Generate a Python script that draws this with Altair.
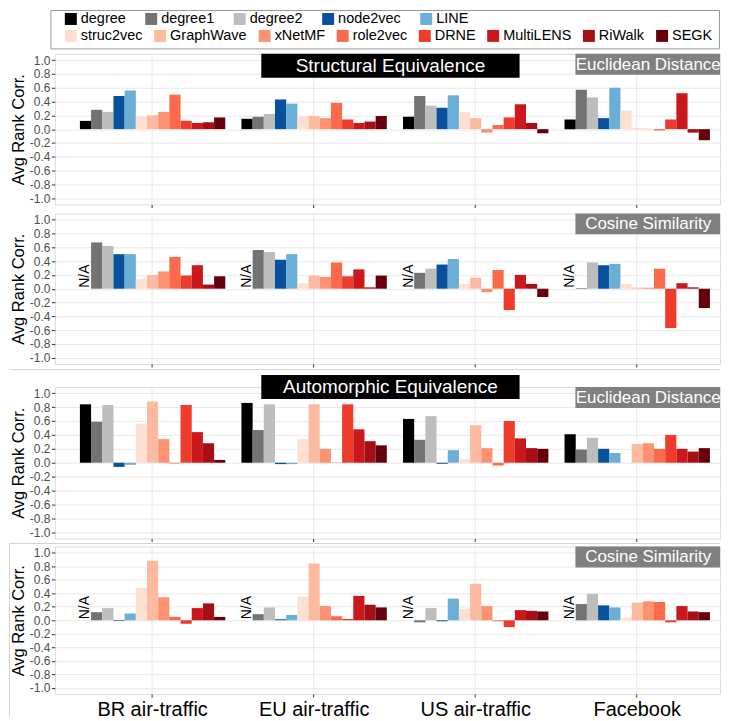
import altair as alt
import pandas as pd

FONT = "Liberation Sans"

methods = ["degree", "degree1", "degree2", "node2vec", "LINE",
           "struc2vec", "GraphWave", "xNetMF", "role2vec", "DRNE",
           "MultiLENS", "RiWalk", "SEGK"]
colors = ["#000000", "#737373", "#bdbdbd", "#08519c", "#6baed6",
          "#fee0d2", "#fcbba1", "#fc9272", "#fb6a4a",
          "#ef3b2c", "#cb181d", "#a50f15", "#67000d"]
legend_row1 = methods[:5]
legend_row2 = methods[5:]
datasets = ["BR air-traffic", "EU air-traffic", "US air-traffic", "Facebook"]
y_ticks = [-1.0, -0.8, -0.6, -0.4, -0.2, 0.0, 0.2, 0.4, 0.6, 0.8, 1.0]

# Structural equivalence - Euclidean distance
se_euc_br = [0.12, 0.28, 0.25, 0.48, 0.56, 0.18, 0.20, 0.25, 0.50, 0.12, 0.09, 0.10, 0.17]
se_euc_eu = [0.15, 0.18, 0.22, 0.43, 0.37, 0.19, 0.19, 0.16, 0.38, 0.14, 0.09, 0.11, 0.19]
se_euc_us = [0.18, 0.48, 0.34, 0.31, 0.49, 0.25, 0.16, -0.05, 0.06, 0.17, 0.36, 0.09, -0.06]
se_euc_fb = [0.14, 0.57, 0.46, 0.16, 0.60, 0.27, 0.01, 0.005, -0.02, 0.14, 0.52, -0.05, -0.16]

# Structural equivalence - Cosine similarity (degree: N/A)
se_cos_br = [None, 0.67, 0.62, 0.50, 0.50, 0.14, 0.20, 0.25, 0.46, 0.19, 0.34, 0.06, 0.18]
se_cos_eu = [None, 0.56, 0.53, 0.42, 0.50, 0.08, 0.19, 0.17, 0.38, 0.18, 0.28, 0.02, 0.19]
se_cos_us = [None, 0.23, 0.29, 0.35, 0.43, 0.07, 0.16, -0.05, 0.27, -0.31, 0.20, 0.07, -0.12]
se_cos_fb = [None, 0.01, 0.38, 0.34, 0.36, 0.07, 0.015, 0.015, 0.29, -0.57, 0.08, 0.02, -0.28]

# Automorphic equivalence - Euclidean distance
ae_euc_br = [0.84, 0.59, 0.83, -0.06, -0.03, 0.56, 0.88, 0.34, -0.01, 0.83, 0.44, 0.28, 0.04]
ae_euc_eu = [0.86, 0.47, 0.84, -0.02, -0.02, 0.34, 0.84, 0.20, 0.005, 0.84, 0.48, 0.31, 0.25]
ae_euc_us = [0.63, 0.33, 0.67, -0.015, 0.18, 0.05, 0.54, 0.21, -0.04, 0.60, 0.35, 0.21, 0.20]
ae_euc_fb = [0.41, 0.19, 0.36, 0.20, 0.14, 0.0, 0.27, 0.28, 0.20, 0.40, 0.20, 0.16, 0.21]

# Automorphic equivalence - Cosine similarity (degree: N/A)
ae_cos_br = [None, 0.12, 0.18, -0.01, 0.10, 0.48, 0.88, 0.34, 0.05, -0.05, 0.18, 0.25, 0.05]
ae_cos_eu = [None, 0.09, 0.19, 0.015, 0.08, 0.35, 0.84, 0.21, 0.06, 0.02, 0.36, 0.23, 0.19]
ae_cos_us = [None, -0.03, 0.18, -0.015, 0.32, 0.17, 0.54, 0.21, -0.015, -0.10, 0.15, 0.14, 0.13]
ae_cos_fb = [None, 0.24, 0.39, 0.22, 0.19, 0.04, 0.26, 0.28, 0.27, -0.03, 0.21, 0.13, 0.12]


def make_df(rows):
    recs = []
    for ds, vals in zip(datasets, rows):
        for m, v in zip(methods, vals):
            recs.append({"dataset": ds, "method": m, "value": v})
    return pd.DataFrame(recs)


# ---- layout / style ----
PW = 667
LEFT = -46
GRID = "#e8e8e8"

# Arial / Liberation Sans advance widths (em) for legend layout
_W = {"a": .556, "b": .556, "c": .5, "d": .556, "e": .556, "f": .278, "g": .556,
      "h": .556, "i": .222, "k": .5, "l": .222, "m": .833, "n": .556, "o": .556,
      "p": .556, "r": .333, "s": .5, "t": .278, "u": .556, "v": .5, "w": .722,
      "x": .5, "y": .5, "1": .556, "2": .556, "C": .722, "D": .722, "E": .667,
      "F": .611, "G": .778, "I": .278, "K": .667, "L": .556, "M": .833, "N": .722,
      "R": .722, "S": .667, "W": .944}


def text_w(s, size):
    return sum(_W.get(ch, .556) for ch in s) * size


LEG_FS = 14.5
SW = 12          # swatch size
SW_GAP = 4       # swatch-label gap


def legend_layers(names, y_center, x_start, pad):
    layers = []
    x = x_start
    d = pd.DataFrame({"t": [0]})
    for name in names:
        col = colors[methods.index(name)]
        layers.append(alt.Chart(d).mark_rect(color=col).encode(
            x=alt.value(x), x2=alt.value(x + SW),
            y=alt.value(y_center - SW / 2), y2=alt.value(y_center + SW / 2)))
        layers.append(alt.Chart(d).mark_text(
            align="left", baseline="middle", font=FONT, fontSize=LEG_FS,
            color="black").encode(
            x=alt.value(x + SW + SW_GAP), y=alt.value(y_center + 0.5),
            text=alt.value(name)))
        x += SW + SW_GAP + text_w(name, LEG_FS) + pad
    return layers


xscale = alt.Scale(domain=datasets, paddingInner=0.1, paddingOuter=0.10864, align=0.713)
xoff = alt.XOffset("method:N", sort=methods,
                   scale=alt.Scale(domain=methods, paddingInner=0, paddingOuter=0))
yscale = alt.Scale(domain=[-1.09, 1.09], nice=False)
yaxis = alt.Axis(values=y_ticks,
                 labelExpr="(datum.value < 0 ? '-' : '') + format(abs(datum.value), '.1f')",
                 labelFont=FONT, labelFontSize=12, labelColor="#4d4d4d", labelPadding=1.5,
                 tickColor="#333333", tickSize=3.5, domain=False,
                 grid=True, gridColor=GRID,
                 titleFont=FONT, titleFontSize=16.5, titleFontWeight="normal",
                 titleColor="black", titlePadding=3)


def xaxis(last):
    if last:
        return alt.Axis(bandPosition=0.5, labelAngle=0, labelFont=FONT, labelFontSize=20,
                        labelColor="black", labelPadding=2, tickColor="#333333",
                        tickSize=3, domain=False, grid=True, gridColor=GRID)
    return alt.Axis(bandPosition=0.5, labels=False, tickColor="#333333", tickSize=3,
                    domain=False, grid=True, gridColor=GRID)


def box(text, x1, x2, y1, y2, fill, size, xc):
    d = pd.DataFrame({"t": [text]})
    r = alt.Chart(d).mark_rect(color=fill).encode(
        x=alt.value(x1), x2=alt.value(x2), y=alt.value(y1), y2=alt.value(y2))
    t = alt.Chart(d).mark_text(color="white", font=FONT, fontSize=size,
                               align="center", baseline="middle").encode(
        x=alt.value(xc), y=alt.value((y1 + y2) / 2 + 0.5), text="t:N")
    return [r, t]


def rule(x1, x2, y, color="#d4d4d4", opacity=1.0):
    d = pd.DataFrame({"t": [0]})
    return alt.Chart(d).mark_rule(color=color, strokeWidth=1, opacity=opacity).encode(
        x=alt.value(x1), x2=alt.value(x2), y=alt.value(y))


def vrule(x, y1, y2):
    d = pd.DataFrame({"t": [0]})
    return alt.Chart(d).mark_rule(color="#d4d4d4", strokeWidth=1).encode(
        x=alt.value(x), y=alt.value(y1), y2=alt.value(y2))


def panel(rows, sub_title, height, last, main_title=None, main_y=0, extra=None):
    df = make_df(rows)
    base = alt.Chart(df)
    x_enc = alt.X("dataset:N", sort=datasets, scale=xscale, axis=xaxis(last), title=None)
    y_enc = alt.Y("value:Q", scale=yscale, axis=yaxis, title="Avg Rank Corr.")
    bars = base.mark_bar().encode(
        x=x_enc, xOffset=xoff, y=y_enc,
        color=alt.Color("method:N", scale=alt.Scale(domain=methods, range=colors),
                        legend=None))
    na = base.transform_filter("!isValid(datum.value)").transform_calculate(
        zero="0").mark_text(text="N/A", angle=270, align="left", baseline="middle",
                            font=FONT, fontSize=14, color="black", dx=1).encode(
        x=x_enc, xOffset=xoff,
        y=alt.Y("zero:Q", scale=yscale, axis=yaxis, title="Avg Rank Corr."))
    layers = [bars, na]
    layers += box(sub_title, 522, PW, 0, 21, "#808080", 17, 595)
    if main_title:
        layers += box(main_title, 207, 466, main_y, main_y + 24, "black", 19, 336.5)
    if extra:
        layers += extra
    return alt.layer(*layers).properties(width=PW, height=height)


legend_frame = alt.Chart(pd.DataFrame({"t": [0]})).mark_rect(
    fillOpacity=0, stroke="#999999", strokeWidth=1).encode(
    x=alt.value(-4), x2=alt.value(PW - 0.5), y=alt.value(-43.5), y2=alt.value(-5))

legend_items = (legend_layers(legend_row1, -35, 10, 19.5)
                + legend_layers(legend_row2, -18, 10, 11.5))

p1 = panel([se_euc_br, se_euc_eu, se_euc_us, se_euc_fb], "Euclidean Distance", 151, False,
           main_title="Structural Equivalence", main_y=0,
           extra=[legend_frame, rule(LEFT, 0, 10, opacity=0)] + legend_items)
p2 = panel([se_cos_br, se_cos_eu, se_cos_us, se_cos_fb], "Cosine Similarity", 151, False,
           extra=[rule(LEFT, 0, -4, opacity=0)])
p3 = panel([ae_euc_br, ae_euc_eu, ae_euc_us, ae_euc_fb], "Euclidean Distance", 152, False,
           main_title="Automorphic Equivalence", main_y=-12,
           extra=[rule(LEFT + 0.5, PW, -17.5)])
p4 = panel([ae_cos_br, ae_cos_eu, ae_cos_us, ae_cos_fb], "Cosine Similarity", 148, True,
           extra=[rule(LEFT + 0.5, PW, -3), rule(LEFT, 0, -3.5, opacity=0),
                  vrule(LEFT + 0.5, -3, 170)])

chart = alt.vconcat(p1, p2, p3, p4, spacing=0).properties(
    padding={"left": 0, "top": 0, "right": 0, "bottom": 0}
).configure_view(stroke="#999999", strokeWidth=1).configure(font=FONT)

chart.save("out.html", embed_options={"renderer": "svg", "actions": False})
